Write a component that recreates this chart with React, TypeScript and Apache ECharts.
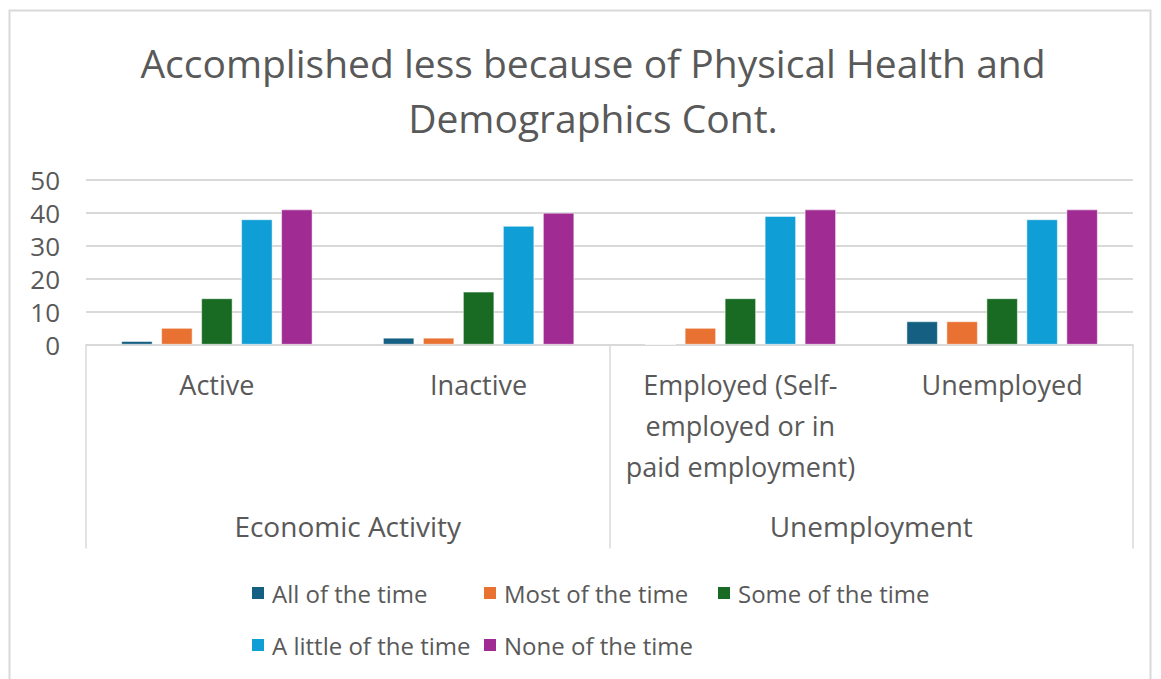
import React, { useEffect, useRef } from "react";
import * as echarts from "echarts";

const categories = ["Active", "Inactive", "Employed (Self-\nemployed or in\npaid employment)", "Unemployed"];
const groups = ["Economic Activity", "Unemployment"];
const seriesNames = ["All of the time", "Most of the time", "Some of the time", "A little of the time", "None of the time"];
const allOfTheTime = [1, 2, 0, 7];
const mostOfTheTime = [5, 2, 5, 7];
const someOfTheTime = [14, 16, 14, 14];
const aLittleOfTheTime = [38, 36, 39, 38];
const noneOfTheTime = [41, 40, 41, 41];
const seriesValues = [allOfTheTime, mostOfTheTime, someOfTheTime, aLittleOfTheTime, noneOfTheTime];
const colors = ["#156082", "#E97132", "#196B24", "#0F9ED5", "#A02B93"];
const yTicks = { min: 0, max: 50, interval: 10 };

const FONT = "'Open Sans', sans-serif";
const TXT = "#595959";
const LINE = "#d9d9d9";

export default function App() {
  const ref = useRef<HTMLDivElement>(null);
  useEffect(() => {
    const chart = echarts.init(ref.current!, null, { renderer: "svg" });
    const legendPos = [
      { left: 250, top: 581 },
      { left: 482, top: 581 },
      { left: 716, top: 581 },
      { left: 250, top: 633 },
      { left: 482, top: 633 },
    ];
    chart.setOption({
      animation: false,
      textStyle: { fontFamily: FONT },
      title: {
        text: "Accomplished less because of Physical Health and\nDemographics Cont.",
        left: 588,
        top: 30,
        textAlign: "center",
        textStyle: { fontFamily: FONT, fontSize: 39, fontWeight: "normal", color: TXT, lineHeight: 55 },
      },
      graphic: [
        {
          type: "rect",
          shape: { x: 9.5, y: 10.5, width: 1141, height: 680 },
          style: { fill: "none", stroke: LINE, lineWidth: 2 },
          silent: true,
        },
      ],
      legend: seriesNames.map((n, i) => ({
        data: [n],
        left: legendPos[i].left,
        top: legendPos[i].top,
        padding: 0,
        itemWidth: 14,
        itemHeight: 14,
        icon: "rect",
        itemGap: 6,
        textStyle: { fontFamily: FONT, fontSize: 24, color: TXT, padding: [0, 0, 0, 2] },
      })),
      grid: { left: 86, right: 28, top: 180, height: 164.5, containLabel: false },
      xAxis: [
        {
          type: "category",
          data: categories,
          position: "bottom",
          axisLine: { lineStyle: { color: LINE, width: 1.5 } },
          axisTick: { show: false },
          axisLabel: { interval: 0, fontSize: 27, color: TXT, margin: 19, lineHeight: 41, fontFamily: FONT },
        },
        {
          type: "category",
          data: groups,
          position: "bottom",
          offset: 0,
          axisLine: { show: false },
          axisTick: { show: true, length: 204, lineStyle: { color: LINE, width: 1.5 } },
          axisLabel: { interval: 0, fontSize: 28, color: TXT, margin: 166, lineHeight: 30, fontFamily: FONT },
        },
      ],
      yAxis: {
        type: "value",
        min: yTicks.min,
        max: yTicks.max,
        interval: yTicks.interval,
        axisLabel: { fontSize: 26, color: TXT, margin: 26, fontFamily: FONT },
        splitLine: { lineStyle: { color: LINE, width: 2 } },
        axisLine: { show: false },
        axisTick: { show: false },
      },
      series: seriesNames.map((n, i) => ({
        name: n,
        type: "bar",
        xAxisIndex: 0,
        data: seriesValues[i],
        barWidth: 31,
        barGap: "29%",
        itemStyle: { color: colors[i], borderColor: "#ffffff", borderWidth: 0.5 },
      })),
    });
    return () => chart.dispose();
  }, []);
  return (
    <div
      ref={ref}
      style={{ position: "fixed", left: 0, top: 0, width: 1161, height: 679, background: "#fff" }}
    />
  );
}
